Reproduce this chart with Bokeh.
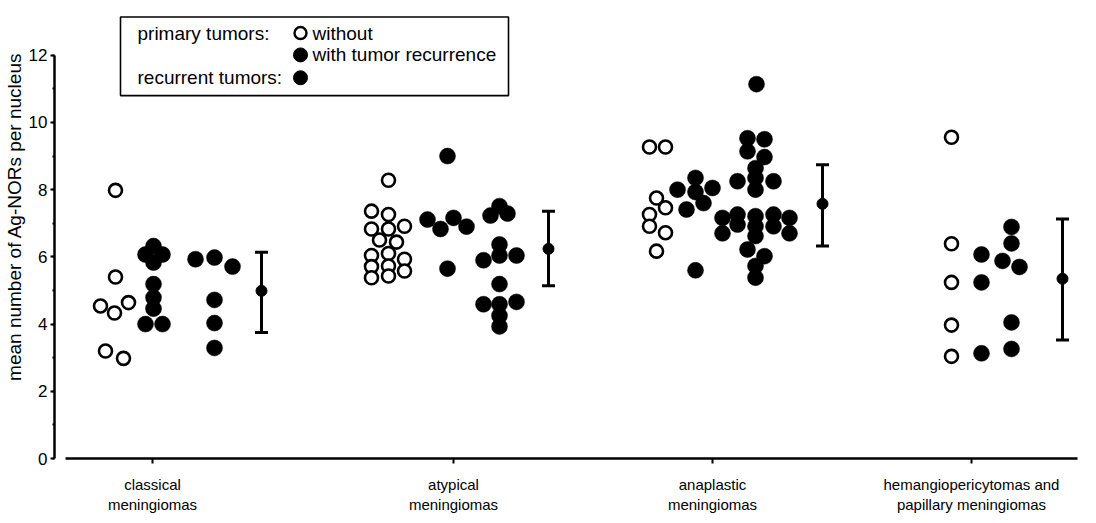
from bokeh.plotting import figure
from bokeh.models import Range1d, FixedTicker, SingleIntervalTicker, Whisker, ColumnDataSource, TeeHead, Title
from bokeh.core.properties import value
from bokeh.embed import file_html
from bokeh.resources import INLINE

FONT = "Liberation Sans"

# ---------------- data ----------------
categories = ["classical\nmeningiomas", "atypical\nmeningiomas",
              "anaplastic\nmeningiomas", "hemangiopericytomas and\npapillary meningiomas"]

# classical meningiomas
classical_without = [7.98, 5.40, 4.54, 4.33, 4.64, 3.20, 2.98]
classical_with = [6.32, 6.07, 6.07, 5.83, 5.19, 4.79, 4.46, 4.00, 4.00]
classical_recurrent = [5.93, 5.98, 5.71, 4.72, 4.03, 3.29]
# atypical meningiomas
atypical_without = [8.28, 7.36, 7.26, 6.83, 6.83, 6.91, 6.50, 6.44, 6.04, 6.10, 5.93,
                    5.71, 5.73, 5.58, 5.38, 5.43]
atypical_with = [9.00, 7.11, 6.83, 7.16, 6.90, 5.65]
atypical_recurrent = [7.51, 7.23, 7.29, 6.37, 5.90, 6.04, 6.04, 5.19, 4.59, 4.59, 4.66, 4.25, 3.93]
# anaplastic meningiomas
anaplastic_without = [9.27, 9.27, 7.75, 7.46, 7.26, 6.91, 6.72, 6.17]
anaplastic_with = [8.35, 8.00, 8.05, 7.93, 7.60, 7.41, 5.60]
anaplastic_recurrent = [11.14, 9.53, 9.50, 9.14, 8.97, 8.64, 8.35, 8.25, 8.25, 8.00,
                        7.16, 6.70, 7.26, 6.96, 7.21, 6.91, 6.62, 7.26, 6.91, 7.16, 6.70,
                        6.22, 6.02, 5.73, 5.38]
# hemangiopericytomas and papillary meningiomas
hemangio_without = [9.56, 6.39, 5.24, 3.97, 3.04]
hemangio_with = [6.07, 5.24, 3.13]
hemangio_recurrent = [6.89, 6.40, 4.05, 3.26, 5.88, 5.70]

# mean +/- SD per group
group_mean = [4.99, 6.24, 7.58, 5.35]
group_low = [3.75, 5.14, 6.32, 3.53]
group_high = [6.14, 7.36, 8.74, 7.13]

y_title = "mean number of Ag-NORs per nucleus"

# ---------------- layout (horizontal placement of the dot columns) ----------------
cat_pos = [152, 453, 712, 971]
classical_without_dx = [-37, -37, -52, -38, -24, -47, -29]
classical_with_dx = [1, -7, 10, 1, 1, 1, 1, -7, 10]
classical_recurrent_dx = [43, 62, 80, 62, 62, 62]
atypical_without_dx = [-65, -82, -65, -82, -65, -49, -74, -57, -82, -65, -49, -82, -65, -49, -82, -65]
atypical_with_dx = [-6, -26, -13, 0, 13, -6]
atypical_recurrent_dx = [46, 37, 54, 46, 30, 46, 63, 46, 30, 46, 63, 46, 46]
anaplastic_without_dx = [-63, -47, -56, -47, -63, -63, -47, -56]
anaplastic_with_dx = [-17, -35, 0, -17, -9, -26, -17]
anaplastic_recurrent_dx = [44, 35, 52, 35, 52, 43, 43, 25, 61, 43,
                           10, 10, 25, 25, 43, 43, 43, 61, 61, 77, 77,
                           35, 52, 43, 43]
hemangio_without_dx = [-20, -20, -20, -20, -20]
hemangio_with_dx = [10, 10, 10]
hemangio_recurrent_dx = [40, 40, 40, 40, 31, 48]
errorbar_dx = [109, 95, 110, 91]

groups = [
    (classical_without, classical_without_dx, classical_with, classical_with_dx,
     classical_recurrent, classical_recurrent_dx),
    (atypical_without, atypical_without_dx, atypical_with, atypical_with_dx,
     atypical_recurrent, atypical_recurrent_dx),
    (anaplastic_without, anaplastic_without_dx, anaplastic_with, anaplastic_with_dx,
     anaplastic_recurrent, anaplastic_recurrent_dx),
    (hemangio_without, hemangio_without_dx, hemangio_with, hemangio_with_dx,
     hemangio_recurrent, hemangio_recurrent_dx),
]

p = figure(width=1080, height=515, output_backend="svg", toolbar_location=None,
           x_range=Range1d(54, 1077), y_range=Range1d(0, 13.54),
           min_border_left=54, min_border_right=3, min_border_top=3, min_border_bottom=54)
p.grid.visible = False
p.outline_line_color = None
p.background_fill_color = "white"

OPEN = dict(marker="circle", size=13, fill_color="white", line_color="black", line_width=2.6)
FILLED = dict(marker="circle", size=16, fill_color="black", line_color="black", line_width=0.5)

for gi, (wo, wo_dx, wi, wi_dx, rc, rc_dx) in enumerate(groups):
    c = cat_pos[gi]
    p.scatter([c + d for d in wo_dx], wo, **OPEN)
    p.scatter([c + d for d in wi_dx], wi, **FILLED)
    p.scatter([c + d for d in rc_dx], rc, **FILLED)

eb_x = [c + d for c, d in zip(cat_pos, errorbar_dx)]
eb_src = ColumnDataSource(dict(x=eb_x, mean=group_mean, lo=group_low, hi=group_high))
p.add_layout(Whisker(base="x", upper="hi", lower="lo", dimension="height", source=eb_src,
                     line_width=3, line_color="black",
                     upper_head=TeeHead(size=13, line_width=3, line_color="black"),
                     lower_head=TeeHead(size=13, line_width=3, line_color="black")))
p.scatter("x", "mean", source=eb_src, marker="circle", size=11, fill_color="black", line_color="black")

# legend box
p.quad(left=[120], right=[508], bottom=[10.8], top=[13.14], fill_color=None,
       line_color="black", line_width=1.6)
p.text(x=[137, 312, 312, 137], y=[12.66, 12.66, 12.01, 11.33],
       text=["primary tumors:", "without", "with tumor recurrence", "recurrent tumors:"],
       text_font=value(FONT), text_font_size="19px", text_baseline="middle", text_color="black")
p.scatter([300], [12.66], marker="circle", size=12, fill_color="white", line_color="black", line_width=2.4)
p.scatter([300, 300], [12.01, 11.33], marker="circle", size=14, fill_color="black", line_color="black")

# axes
xa = p.xaxis[0]
xa.ticker = FixedTicker(ticks=cat_pos, minor_ticks=[])
xa.major_label_overrides = {c: lab for c, lab in zip(cat_pos, categories)}
xa.bounds = (65, 1077)
xa.axis_line_width = 2.5
xa.major_tick_line_width = 2
xa.major_tick_in = 0
xa.major_tick_out = 5
xa.minor_tick_line_color = None
xa.major_label_text_font = FONT
xa.major_label_text_font_size = "15px"
xa.major_label_text_color = "black"
xa.major_label_text_line_height = 1.2
xa.major_label_standoff = 12

ya = p.yaxis[0]
ya.ticker = SingleIntervalTicker(interval=2, num_minor_ticks=2)
ya.bounds = (0, 12)
ya.axis_line_width = 2.5
ya.major_tick_line_width = 2
ya.major_tick_in = 0
ya.major_tick_out = 4
ya.minor_tick_in = 0
ya.minor_tick_out = 2
ya.minor_tick_line_width = 2
ya.major_label_text_font = FONT
ya.major_label_text_font_size = "17px"
ya.major_label_text_color = "black"
ya.major_label_standoff = 3

p.add_layout(Title(text=y_title, align="right", offset=49, standoff=2,
                   text_font=FONT, text_font_size="19px", text_font_style="normal",
                   text_color="black"), "left")

open("out.html", "w").write(file_html(p, INLINE))
